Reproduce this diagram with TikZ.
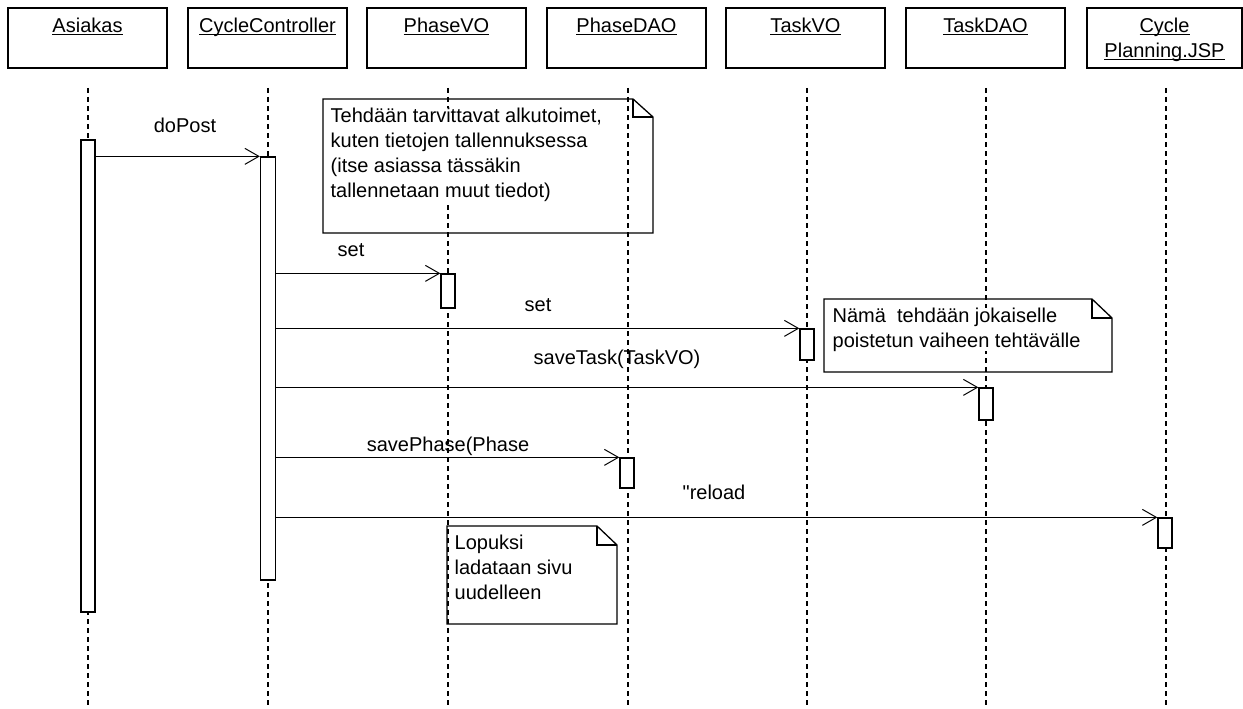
\documentclass[tikz,border=0pt]{standalone}
\usepackage{fontspec}
\setmainfont{Liberation Sans}
% same face without TeX input mappings, so a straight " stays straight
\newfontfamily\plainsans{Liberation Sans}
\usetikzlibrary{arrows.meta,calc}

% underlined object name with a heavier rule than \underline
\newsavebox\unamebox
\newcommand{\uname}[1]{\sbox\unamebox{#1}\rlap{\rule[-3pt]{\wd\unamebox}{1.2pt}}\usebox\unamebox}

\begin{document}
\begin{tikzpicture}[x=1pt,y=-1pt,
  font=\fontsize{20}{25}\selectfont,
  line width=1.3pt,
  objbox/.style={draw, minimum width=159pt, minimum height=60pt, inner sep=0pt},
  objname/.style={anchor=north, inner sep=0pt, align=center},
  lifeline/.style={dash pattern=on 5pt off 4pt, line width=1.3pt},
  actbox/.style={draw, fill=white, minimum width=14pt, inner sep=0pt},
  msg/.style={-{Straight Barb[length=14pt,width=16pt,line width=1pt]}},
  msglabel/.style={inner sep=0pt},
  notebody/.style={line width=1.3pt, line join=miter},
  notetext/.style={anchor=north west, align=left, fill=white, inner sep=0pt}]

\useasboundingbox (0,0) rectangle (1243,709);

% object header boxes
\node[objbox] (asiakas)  at (87.5,38)  {};
\node[objbox] (cc)       at (267.5,38) {};
\node[objbox] (phasevo)  at (446.5,38) {};
\node[objbox] (phasedao) at (626.5,38) {};
\node[objbox] (taskvo)   at (805.5,38) {};
\node[objbox] (taskdao)  at (985.5,38) {};
\node[objbox, minimum width=155pt] (cplan) at (1164.5,38) {};

\node[objname] (asiakasN)  at ($(asiakas.north)+(0,10)$)  {\uname{Asiakas}};
\node[objname] (ccN)       at ($(cc.north)+(0,10)$)       {\uname{CycleController}};
\node[objname] (phasevoN)  at ($(phasevo.north)+(0,10)$)  {\uname{PhaseVO}};
\node[objname] (phasedaoN) at ($(phasedao.north)+(0,10)$) {\uname{PhaseDAO}};
\node[objname] (taskvoN)   at ($(taskvo.north)+(0,10)$)   {\uname{TaskVO}};
\node[objname] (taskdaoN)  at ($(taskdao.north)+(0,10)$)  {\uname{TaskDAO}};
\node[objname] (cplanN)    at ($(cplan.north)+(0,10)$)    {\uname{Cycle}\\\uname{Planning.JSP}};

% lifelines
\foreach \n/\x in {asiakas/88, cc/268, phasevo/448, phasedao/628, taskvo/807, taskdao/986, cplan/1166}{
  \coordinate (\n-top) at (\x,88);
  \coordinate (\n-end) at (\x,705);
  \draw[lifeline] (\n-top) -- (\n-end);
}

% note texts (white ground hides the lifelines behind the words)
\node[notetext] (note1) at (330,107) {Tehdään tarvittavat alkutoimet,\\kuten tietojen tallennuksessa\\(itse asiassa tässäkin\\tallennetaan muut tiedot)};
\node[notetext] (note2) at (832,307) {Nämä\ \ tehdään jokaiselle\\poistetun vaiheen tehtävälle};
\node[notetext] (note3) at (454,534) {Lopuksi\\ladataan sivu\\uudelleen};

% note outlines (folded corner)
\draw[notebody] (323,99) -- (633,99) -- (653,117) -- (653,233) -- (323,233) -- cycle;
\draw[notebody] (633,99) -- (633,117) -- (653,117);
\draw[notebody] (824,299) -- (1092,299) -- (1112,318) -- (1112,372) -- (824,372) -- cycle;
\draw[notebody] (1092,299) -- (1092,318) -- (1112,318);
\draw[notebody] (447,526) -- (597,526) -- (617,545) -- (617,624) -- (447,624) -- cycle;
\draw[notebody] (597,526) -- (597,545) -- (617,545);

% activations
\node[actbox, minimum height=472pt] (asiakasAct) at (88,376) {};
\node[actbox, minimum width=15pt, minimum height=423pt] (ccAct) at (268,368.5) {};
\node[actbox, minimum height=34pt] (phasevoAct)  at (448,291)   {};
\node[actbox, minimum height=31pt] (taskvoAct)   at (807,344.5) {};
\node[actbox, minimum height=32pt] (taskdaoAct)  at (986,404)   {};
\node[actbox, minimum height=30pt] (phasedaoAct) at (627,473)   {};
\node[actbox, minimum height=30pt] (cplanAct)    at (1165,533)  {};

% messages
\draw[msg] (asiakasAct.east |- ccAct.north) -- (ccAct.north west);
\draw[msg] (ccAct.east |- phasevoAct.north) -- (phasevoAct.north west);
\draw[msg] (ccAct.east |- taskvoAct.north) -- (taskvoAct.north west);
\draw[msg] (ccAct.east |- taskdaoAct.north) -- (taskdaoAct.north west);
\draw[msg] (ccAct.east |- phasedaoAct.north) -- (phasedaoAct.north west);
\draw[msg] (ccAct.east |- cplanAct.north) -- (cplanAct.north west);

\node[msglabel] (doPostL)    at (185,125) {doPost};
\node[msglabel] (set1L)      at (351,250) {set};
\node[msglabel] (set2L)      at (538,305) {set};
\node[msglabel] (saveTaskL)  at (617,359) {saveTask(TaskVO)};
\node[msglabel] (savePhaseL) at (448,446) {savePhase(Phase};
\node[msglabel] (reloadL)    at (714,492) {\plainsans "reload};
\end{tikzpicture}
\end{document}
